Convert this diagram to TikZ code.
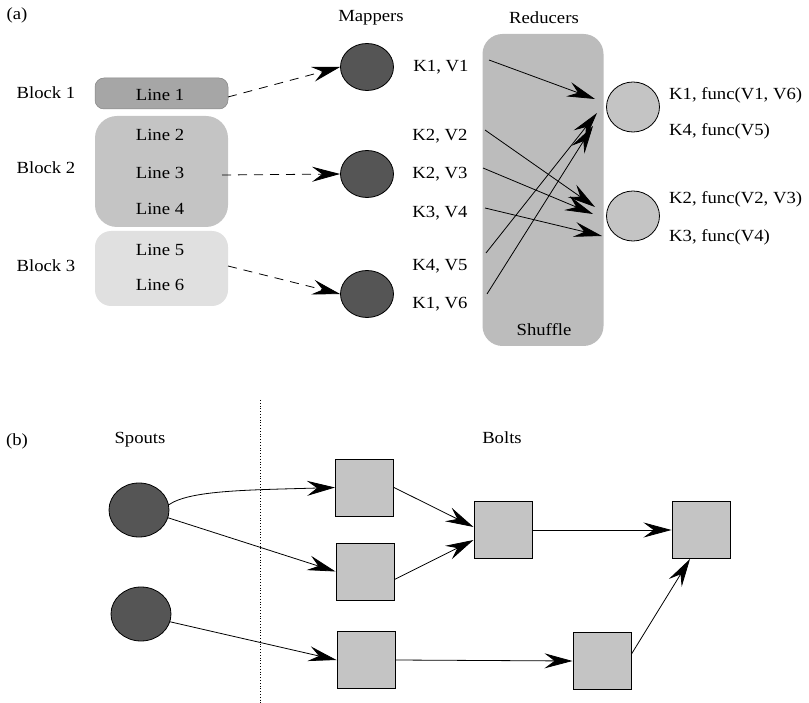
\documentclass[tikz,border=0pt]{standalone}
\usepackage{fontspec}
\setmainfont[FakeStretch=1.1]{Liberation Serif}
\usetikzlibrary{arrows.meta,shapes.geometric}
\definecolor{darkfill}{HTML}{555555}
\definecolor{midfill}{HTML}{C4C4C4}
\definecolor{line1fill}{HTML}{A6A6A6}
\definecolor{lightfill}{HTML}{E0E0E0}
\definecolor{shufflefill}{HTML}{BCBCBC}
\tikzset{
  txt/.style={font=\fontsize{17}{20}\selectfont, inner sep=0pt},
  mapper/.style={ellipse, draw=black, line width=0.8pt, fill=darkfill, minimum width=53pt, minimum height=47pt, inner sep=0pt},
  reducer/.style={ellipse, draw=black, line width=0.8pt, fill=midfill, minimum width=53pt, minimum height=50pt, inner sep=0pt},
  spout/.style={ellipse, draw=black, line width=0.8pt, fill=darkfill, minimum width=60pt, minimum height=54pt, inner sep=0pt},
  bolt/.style={rectangle, draw=black, line width=1pt, fill=midfill, minimum width=58pt, minimum height=57pt, inner sep=0pt},
  tip/.style={-{Stealth[length=28pt, width=15pt, inset=10pt]}, line width=0.8pt},
  dasharrow/.style={tip, dash pattern=on 9pt off 7pt},
}
\begin{document}
\begin{tikzpicture}[x=1pt, y=-1pt]
\useasboundingbox (0,0) rectangle (809,703);
% ---------- (a) ----------
\node[txt] (la) at (17,15) {(a)};
\node[txt] (mappers) at (371,18) {Mappers};
\node[txt] (reducers) at (544,18) {Reducers};
% blocks
\node[draw=line1fill!80!black, line width=0.5pt, fill=line1fill, rounded corners=9pt, minimum width=133pt, minimum height=31pt, inner sep=0pt] (blk1) at (161.5,93.5) {};
\node[fill=midfill, rounded corners=22pt, minimum width=133pt, minimum height=111pt, inner sep=0pt] (blk2) at (161.5,171.5) {};
\node[fill=lightfill, rounded corners=16pt, minimum width=133pt, minimum height=75pt, inner sep=0pt] (blk3) at (161.5,268.5) {};
\node[txt] (l1) at (160,95) {Line 1};
\node[txt] (l2) at (160,135) {Line 2};
\node[txt] (l3) at (160,173) {Line 3};
\node[txt] (l4) at (160,209) {Line 4};
\node[txt] (l5) at (160,250) {Line 5};
\node[txt] (l6) at (160,285) {Line 6};
\node[txt] (b1) at (46,93) {Block 1};
\node[txt] (b2) at (46,168) {Block 2};
\node[txt] (b3) at (46,266) {Block 3};
% mappers
\node[mapper] (m1) at (367,67) {};
\node[mapper] (m2) at (367,174) {};
\node[mapper] (m3) at (367,294) {};
\coordinate (s1) at (228,97);
\coordinate (s2) at (222,175);
\coordinate (s3) at (228,266);
\draw[dasharrow] (s1) -- (m1.west);
\draw[dasharrow] (s2) -- (m2.west);
\draw[dasharrow] (s3) -- (m3.west);
% shuffle
\node[fill=shufflefill, rounded corners=20pt, minimum width=121pt, minimum height=312pt, inner sep=0pt] (shuf) at (543,190) {};
\node[txt] (shtxt) at (544,330) {Shuffle};
\node[txt] (kv1) at (441,67) {K1, V1};
\node[txt] (kv2) at (440,136) {K2, V2};
\node[txt] (kv3) at (440,174) {K2, V3};
\node[txt] (kv4) at (440,213) {K3, V4};
\node[txt] (kv5) at (440,266) {K4, V5};
\node[txt] (kv6) at (440,304) {K1, V6};
% reducers
\node[reducer] (r1) at (633,107) {};
\node[reducer] (r2) at (633,216) {};
\node[txt, anchor=west] (o1) at (669,95) {K1, func(V1, V6)};
\node[txt, anchor=west] (o2) at (669,131) {K4, func(V5)};
\node[txt, anchor=west] (o3) at (669,199) {K2, func(V2, V3)};
\node[txt, anchor=west] (o4) at (669,237) {K3, func(V4)};
% shuffle arrows
\coordinate (a1s) at (489,60);  \coordinate (a1e) at (595,99);
\coordinate (a2s) at (485,130); \coordinate (a2e) at (595,207);
\coordinate (a3s) at (483,168); \coordinate (a3e) at (593,214);
\coordinate (a4s) at (485,208); \coordinate (a4e) at (602,236);
\coordinate (a5s) at (486,253); \coordinate (a5e) at (597,113);
\coordinate (a6s) at (487,294); \coordinate (a6e) at (593,126);
\draw[tip] (a1s) -- (a1e);
\draw[tip] (a2s) -- (a2e);
\draw[tip] (a3s) -- (a3e);
\draw[tip] (a4s) -- (a4e);
\draw[tip] (a5s) -- (a5e);
\draw[tip] (a6s) -- (a6e);
% ---------- (b) ----------
\node[txt] (lb) at (17,441) {(b)};
\node[txt] (spouts) at (140,440) {Spouts};
\node[txt] (bolts) at (502,438) {Bolts};
\coordinate (dtop) at (260,400);
\coordinate (dbot) at (260,703);
\draw[dotted, line width=0.8pt] (dtop) -- (dbot);
\node[spout] (sp1) at (139,510) {};
\node[spout] (sp2) at (141,614) {};
\node[bolt] (bo1) at (364.5,487.5) {};
\node[bolt] (bo2) at (365,571.5) {};
\node[bolt] (bo3) at (503,530) {};
\node[bolt] (bo4) at (701,530) {};
\node[bolt] (bo5) at (366,660) {};
\node[bolt] (bo6) at (602,661) {};
\draw[tip] (sp1.10) .. controls (190,490) and (250,490) .. (bo1.west);
\draw[tip] (sp1.-15) -- (bo2.west);
\draw[tip] (sp2.-15) -- (bo5.west);
\draw[tip] (bo1.east) -- ([yshift=3pt]bo3.west);
\draw[tip] ([yshift=-8pt]bo2.east) -- ([yshift=-10pt]bo3.west);
\draw[tip] (bo3.east) -- (bo4.west);
\draw[tip] (bo5.east) -- (bo6.west);
\draw[tip] ([yshift=7pt]bo6.east) -- ([xshift=-11pt]bo4.south);
\end{tikzpicture}
\end{document}
